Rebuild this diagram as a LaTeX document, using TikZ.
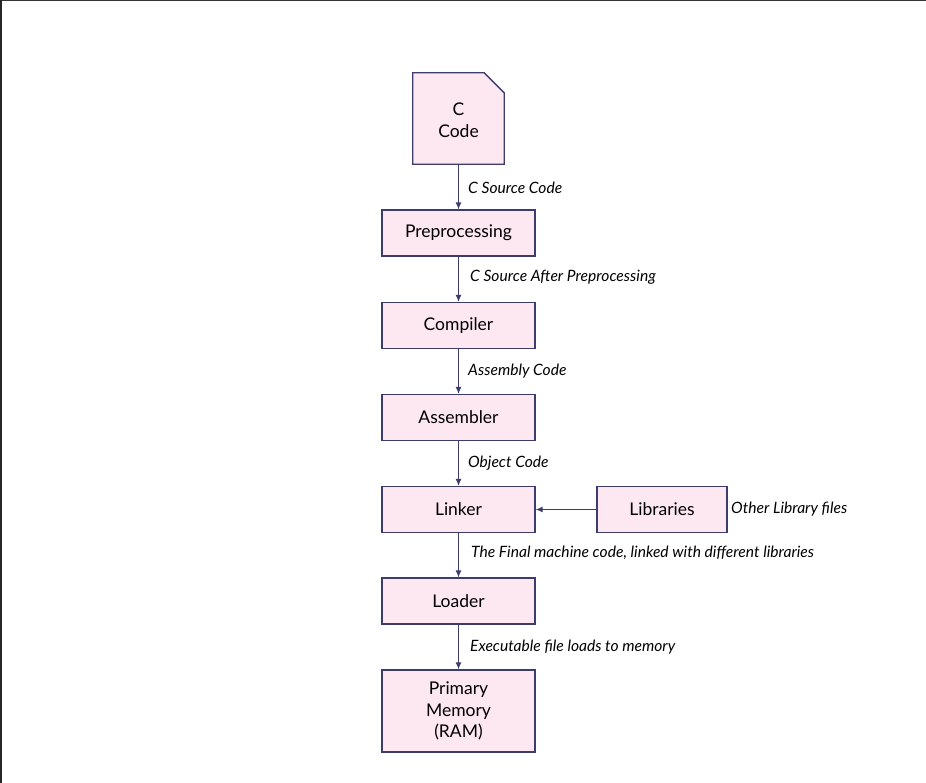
\documentclass[tikz,border=0pt]{standalone}
\usepackage{fontspec}
\setmainfont{Lato}
\usepackage{tikz}
\usetikzlibrary{arrows.meta}
\definecolor{boxfill}{HTML}{FDE7F1}
\definecolor{boxline}{HTML}{3C3C6E}
\begin{document}
\begin{tikzpicture}[x=1pt,y=-1pt,
  stage/.style={draw=boxline,fill=boxfill,line width=1.3pt,minimum width=153pt,
    minimum height=46pt,inner sep=0pt,font=\fontsize{17.5}{21.5}\selectfont,align=center},
  flow/.style={draw=boxline,line width=1pt,-{Latex[length=7pt,width=6pt]}},
  note/.style={anchor=west,inner sep=0pt,font=\fontsize{15.6}{18}\selectfont\itshape}]
\useasboundingbox (0,0) rectangle (926,783);
\draw[line width=1.5pt,color=black!80] (0,0.75) -- (926,0.75); \draw[line width=1.5pt,color=black!85] (0.75,0) -- (0.75,783);
% source file with folded corner
\node[minimum width=91pt,minimum height=91pt,inner sep=0pt] (code) at (458.5,118.5) {};
\filldraw[draw=boxline,fill=boxfill,line width=1.3pt] (code.north west) -- ([xshift=-20pt]code.north east)
  -- ([yshift=-20pt]code.north east) -- (code.south east) -- (code.south west) -- cycle;
\node[align=center,font=\fontsize{17.5}{21.5}\selectfont] (codetext) at (458.5,120) {C\\Code};
\node[stage] (pre) at (458.5,233) {Preprocessing};
\node[stage] (comp) at (458.5,325.5) {Compiler};
\node[stage] (asm) at (458.5,417.5) {Assembler};
\node[stage] (link) at (458.5,509.5) {Linker};
\node[stage,minimum width=130pt] (lib) at (662,509.5) {Libraries};
\node[stage] (load) at (458.5,601) {Loader};
\node[stage,minimum height=82pt] (ram) at (458.5,711) {Primary\\Memory\\(RAM)};
\draw[flow] (code) -- (pre); \node[note] (n1) at (468,188) {C Source Code};
\draw[flow] (pre) -- (comp); \node[note] (n2) at (470,277) {C Source After Preprocessing};
\draw[flow] (comp) -- (asm); \node[note] (n3) at (468,371) {Assembly Code};
\draw[flow] (asm) -- (link); \node[note] (n4) at (468,463) {Object Code};
\draw[flow] (lib) -- (link); \node[note] (n5) at (731,509.5) {Other Library files};
\draw[flow] (link) -- (load); \node[note] (n6) at (471,553) {The Final machine code, linked with different libraries};
\draw[flow] (load) -- (ram); \node[note] (n7) at (470,647) {Executable file loads to memory};
\end{tikzpicture}
\end{document}
